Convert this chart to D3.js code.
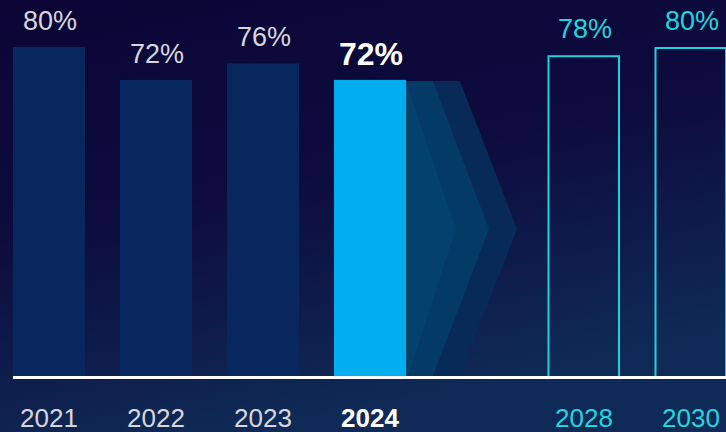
<!DOCTYPE html>
<html>
<head>
<meta charset="utf-8">
<script src="https://cdn.jsdelivr.net/npm/d3@7"></script>
<style>
  html, body { margin: 0; padding: 0; background: #0c0536; }
  svg { display: block; }
</style>
</head>
<body>
<svg id="chart" width="726" height="432"></svg>
<script>
// ---- data ----
const slots = ["2021", "2022", "2023", "2024", "gap", "2028", "2030"];
const years = ["2021", "2022", "2023", "2024", "2028", "2030"];
const values = [80, 72, 76, 72, 78, 80];
const kinds = ["past", "past", "past", "current", "target", "target"];
const labels = ["80%", "72%", "76%", "72%", "78%", "80%"];
const data = years.map((y, i) => ({ year: y, value: values[i], kind: kinds[i], label: labels[i] }));

(function () {
const W = 726, H = 432;
const svg = d3.select("#chart");

// background gradient
const defs = svg.append("defs");
const g = defs.append("linearGradient").attr("id", "bg")
  .attr("x1", 0).attr("y1", 0).attr("x2", 0.35).attr("y2", 1);
g.append("stop").attr("offset", 0).attr("stop-color", "#0c0536");
g.append("stop").attr("offset", 0.5).attr("stop-color", "#0d0c3e");
g.append("stop").attr("offset", 1).attr("stop-color", "#0f2a56");
svg.append("rect").attr("width", W).attr("height", H).attr("fill", "url(#bg)");

// scales
const x = d3.scaleBand().domain(slots).range([13, 727]).paddingInner(35 / 107).paddingOuter(0);
const y = d3.scaleLinear().domain([0, 80]).range([376, 47]);
const bw = x.bandwidth();

// chevrons after the 2024 bar
const cur = data.find(d => d.kind === "current");
const cx0 = x(cur.year) + bw;
const yTop = y(cur.value) + 1, yBot = y(0);
const yMid = (yTop + yBot) / 2 + 0.5;
const chevrons = [
  { topRight: cx0 + 54, tip: cx0 + 111, botRight: cx0 + 54, fill: "#072a58" },
  { topRight: cx0 + 27, tip: cx0 + 83, botRight: cx0 + 27, fill: "#033a66" },
  { topRight: cx0 + 0, tip: cx0 + 50, botRight: cx0 + 2, fill: "#02426d" }
];
svg.append("g").selectAll("path").data(chevrons).join("path")
  .attr("d", c => `M${cx0},${yTop}L${c.topRight},${yTop}L${c.tip},${yMid}L${c.botRight},${yBot}L${cx0},${yBot}Z`)
  .attr("fill", c => c.fill);

// bars
const solid = data.filter(d => d.kind !== "target");
svg.append("g").selectAll("rect").data(solid).join("rect")
  .attr("x", d => x(d.year))
  .attr("y", d => y(d.value))
  .attr("width", bw)
  .attr("height", d => y(0) - y(d.value))
  .attr("fill", d => d.kind === "current" ? "#00aeef" : "#08275e");

const outline = data.filter(d => d.kind === "target");
svg.append("g").selectAll("rect").data(outline).join("rect")
  .attr("x", d => x(d.year) + 0.5)
  .attr("y", d => y(d.value) + 1)
  .attr("width", bw - 1.5)
  .attr("height", d => y(0) - y(d.value))
  .attr("fill", "none")
  .attr("stroke", "#19d3dc")
  .attr("stroke-width", 2);

// baseline
svg.append("rect").attr("x", 13).attr("y", 376).attr("width", W - 13).attr("height", 3).attr("fill", "#ffffff");

const colorFor = d => d.kind === "current" ? "#ffffff" : d.kind === "target" ? "#1fd6de" : "#d6d6dc";
const font = "'Liberation Sans', Arial, Helvetica, sans-serif";

// value labels
svg.append("g").selectAll("text").data(data).join("text")
  .attr("x", d => x(d.year) + bw / 2 + 1)
  .attr("y", d => y(d.value) - (d.kind === "current" ? 15 : 17))
  .attr("text-anchor", "middle")
  .attr("font-family", font)
  .attr("font-size", d => d.kind === "current" ? 32 : 27)
  .attr("font-weight", d => d.kind === "current" ? "bold" : "normal")
  .attr("fill", colorFor)
  .text(d => d.label);

// year labels (axis)
const axis = d3.axisBottom(x).tickValues(years).tickSize(0).tickPadding(0);
const ax = svg.append("g").attr("transform", `translate(0,${427})`).call(axis);
ax.select(".domain").remove();
ax.selectAll(".tick text")
  .attr("y", 0).attr("dy", 0)
  .attr("font-family", font)
  .attr("font-size", 26)
  .attr("font-weight", d => d === cur.year ? "bold" : "normal")
  .attr("fill", d => colorFor(data.find(e => e.year === d)));
})();
</script>
</body>
</html>
